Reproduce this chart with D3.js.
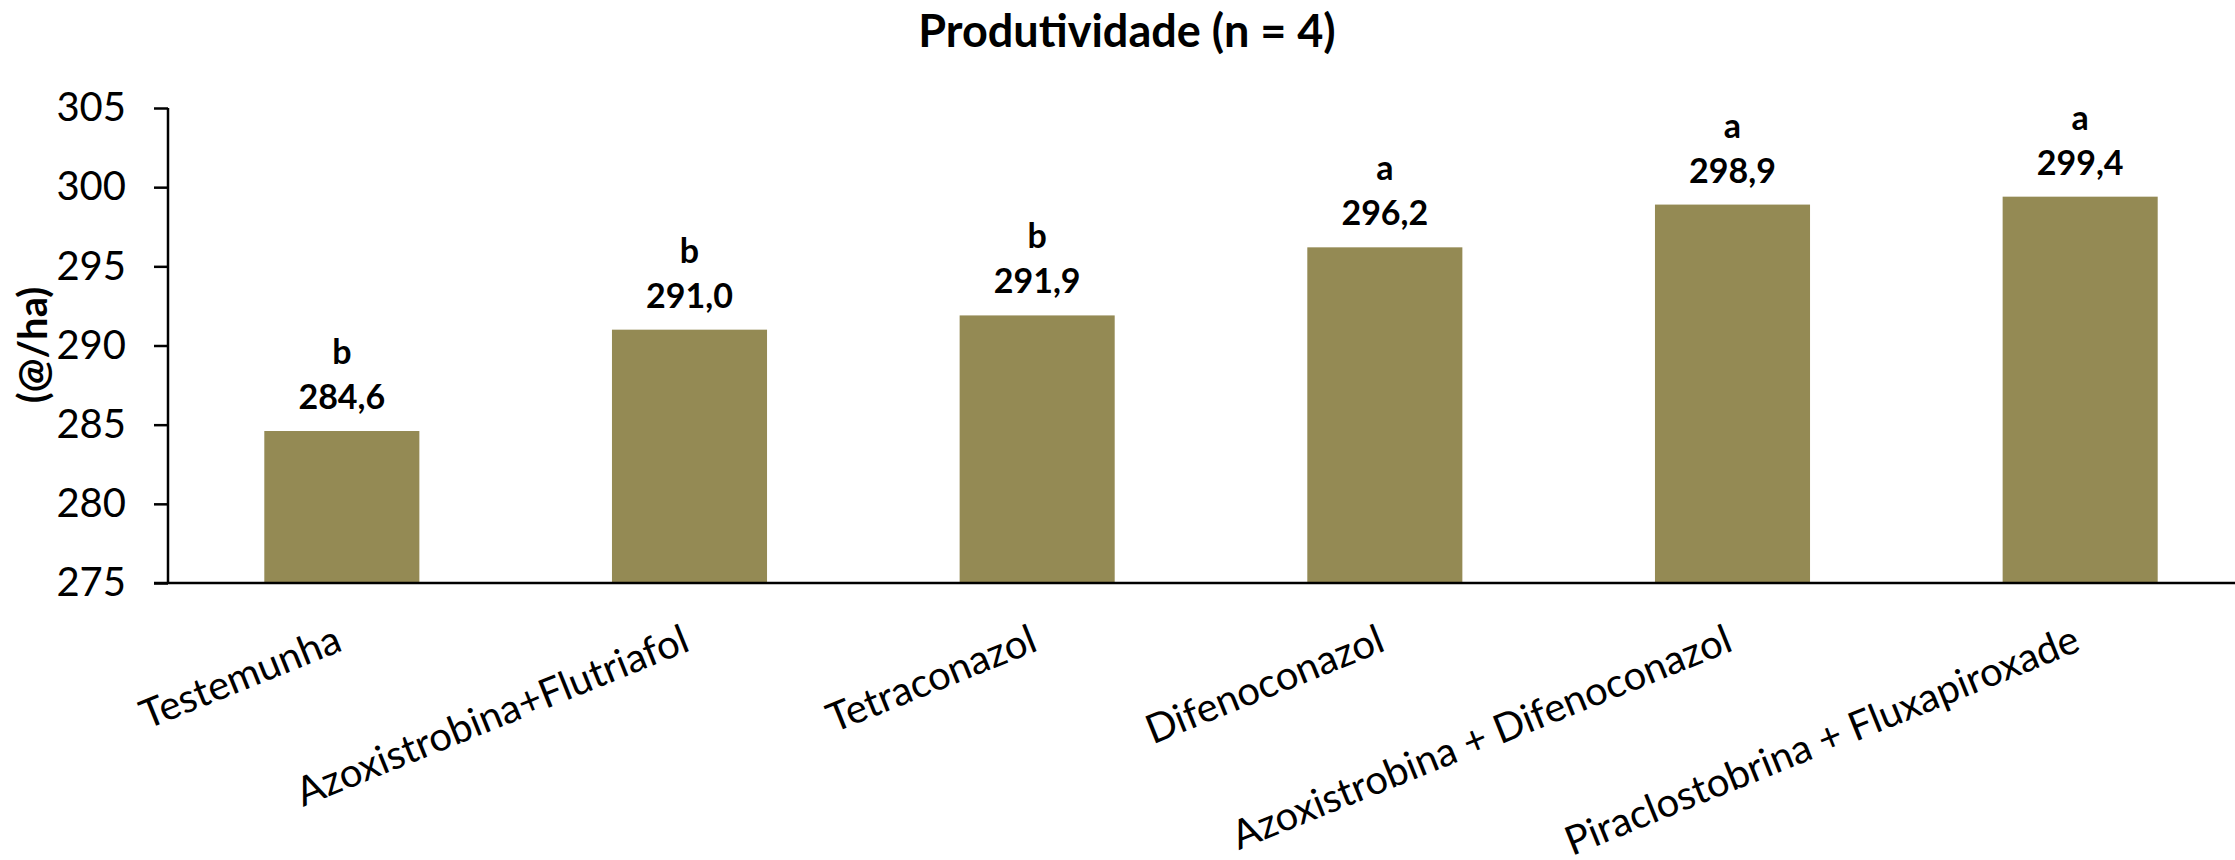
<!DOCTYPE html>
<html>
<head>
<meta charset="utf-8">
<script src="https://cdn.jsdelivr.net/npm/d3@7"></script>
<style>
  body { margin: 0; background: #fff; }
  svg { display: block; }
  text { font-family: Lato, "Open Sans", sans-serif; fill: #000; }
</style>
</head>
<body>
<script>
// data
var categories = ["Testemunha", "Azoxistrobina+Flutriafol", "Tetraconazol",
  "Difenoconazol", "Azoxistrobina + Difenoconazol", "Piraclostobrina + Fluxapiroxade"]
var values = [284.6, 291.0, 291.9, 296.2, 298.9, 299.4]
var letters = ["b", "b", "b", "a", "a", "a"]
var yTicks = [275, 280, 285, 290, 295, 300, 305]

var W = 2235, H = 860
// plot edges (note: "top" is reserved on window, so prefix them)
var pLeft = 168, pTop = 108, pBottom = 583, pRight = 2254

var svg = d3.select("body").append("svg")
  .attr("width", W)
  .attr("height", H)

var x = d3.scaleBand()
  .domain(categories)
  .range([pLeft, pRight])
  .paddingInner(0.554)
  .paddingOuter(0.277)

var y = d3.scaleLinear()
  .domain([275, 305])
  .range([pBottom, pTop])

// title
svg.append("text")
  .attr("x", 1127)
  .attr("y", 47)
  .attr("text-anchor", "middle")
  .style("font-weight", "bold")
  .style("font-size", "45px")
  .text("Produtividade (n = 4)")

// bars
svg.selectAll("rect.bar")
  .data(values)
  .enter().append("rect")
  .attr("class", "bar")
  .attr("x", function(d, i) { return x(categories[i]) })
  .attr("width", x.bandwidth())
  .attr("y", function(d) { return y(d) })
  .attr("height", function(d) { return pBottom - y(d) })
  .attr("fill", "#948A54")

// value labels + letters
var cx = function(i) { return x(categories[i]) + x.bandwidth() / 2 }

svg.selectAll("text.val")
  .data(values)
  .enter().append("text")
  .attr("class", "val")
  .attr("x", function(d, i) { return cx(i) })
  .attr("y", function(d) { return y(d) - 22 })
  .attr("text-anchor", "middle")
  .style("font-weight", "bold")
  .style("font-size", "34px")
  .text(function(d) { return d.toFixed(1).replace(".", ",") })

svg.selectAll("text.let")
  .data(letters)
  .enter().append("text")
  .attr("class", "let")
  .attr("x", function(d, i) { return cx(i) })
  .attr("y", function(d, i) { return y(values[i]) - 67 })
  .attr("text-anchor", "middle")
  .style("font-weight", "bold")
  .style("font-size", "34px")
  .text(function(d) { return d })

// y axis
var yAxis = svg.append("g")
  .attr("transform", "translate(" + pLeft + ",0)")
  .call(d3.axisLeft(y).tickValues(yTicks).tickSize(14).tickPadding(28))

yAxis.select(".domain").attr("stroke", "#000").attr("stroke-width", 2.5)
  .attr("d", "M0," + pTop + "V" + pBottom)
yAxis.selectAll(".tick line").attr("stroke", "#000").attr("stroke-width", 2.5)
yAxis.selectAll(".tick text")
  .style("font-family", "Lato, sans-serif")
  .style("font-size", "40px")
  .attr("fill", "#000")

// x axis line
svg.append("line")
  .attr("x1", pLeft - 14)
  .attr("x2", W)
  .attr("y1", pBottom)
  .attr("y2", pBottom)
  .attr("stroke", "#000")
  .attr("stroke-width", 2.5)

// category labels, rotated
svg.selectAll("text.cat")
  .data(categories)
  .enter().append("text")
  .attr("class", "cat")
  .attr("text-anchor", "end")
  .attr("transform", function(d, i) {
    return "translate(" + (cx(i) + 2) + ",650) rotate(-22)"
  })
  .style("font-size", "40px")
  .text(function(d) { return d })

// y title
svg.append("text")
  .attr("transform", "translate(47,345) rotate(-90)")
  .attr("text-anchor", "middle")
  .style("font-weight", "bold")
  .style("font-size", "40px")
  .text("(@/ha)")
</script>
</body>
</html>
